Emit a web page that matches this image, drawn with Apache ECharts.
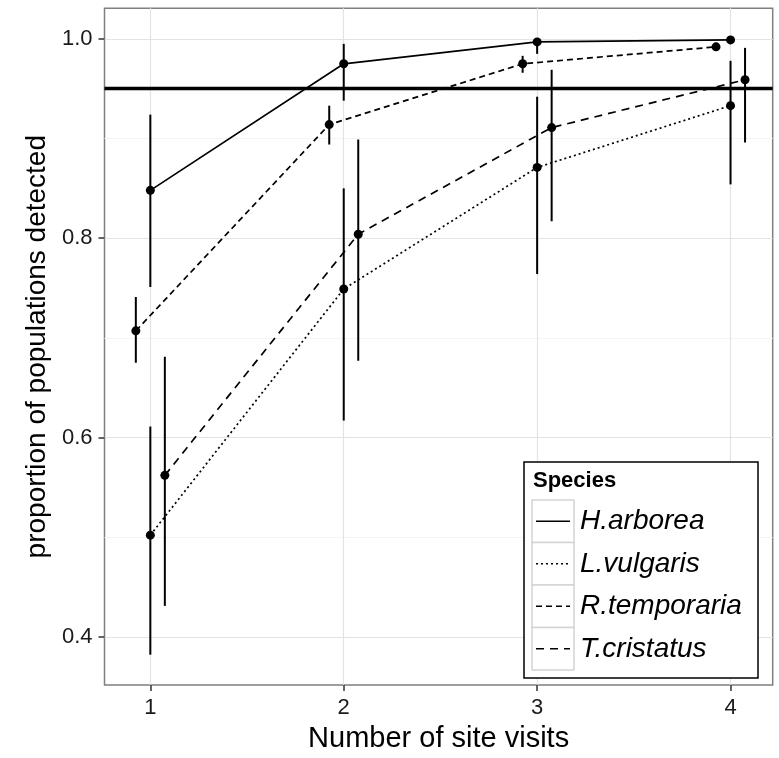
<!DOCTYPE html>
<html>
<head>
<meta charset="utf-8">
<script src="https://cdn.jsdelivr.net/npm/echarts@6/dist/echarts.min.js"></script>
<style>
  html, body { margin: 0; padding: 0; background: #fff; }
  #chart { width: 779px; height: 758px; }
</style>
</head>
<body>
<div id="chart"></div>
<script>
// number of visits (x) and species
var visits = [1, 2, 3, 4];
var species = ['H.arborea', 'L.vulgaris', 'R.temporaria', 'T.cristatus'];
var dodge = [0, 0, -0.075, 0.075];

// detection proportion, with lower / upper interval
var hArborea    = [0.848, 0.975, 0.997, 0.999];
var hArboreaLo  = [0.751, 0.938, 0.985, 0.997];
var hArboreaHi  = [0.924, 0.995, 1.000, 1.000];
var lVulgaris   = [0.502, 0.749, 0.871, 0.933];
var lVulgarisLo = [0.382, 0.617, 0.764, 0.854];
var lVulgarisHi = [0.611, 0.850, 0.942, 0.978];
var rTemp       = [0.707, 0.914, 0.975, 0.992];
var rTempLo     = [0.675, 0.894, 0.966, 0.988];
var rTempHi     = [0.741, 0.933, 0.983, 0.996];
var tCrist      = [0.562, 0.804, 0.911, 0.959];
var tCristLo    = [0.431, 0.677, 0.817, 0.896];
var tCristHi    = [0.681, 0.899, 0.969, 0.991];

var threshold = 0.95;

// ticks and gridlines
var xTicks = [1, 2, 3, 4];
var yTicks = [0.4, 0.6, 0.8, 1.0];
var yMinor = [0.5, 0.7, 0.9];

var means = [hArborea, lVulgaris, rTemp, tCrist];
var lows = [hArboreaLo, lVulgarisLo, rTempLo, tCristLo];
var highs = [hArboreaHi, lVulgarisHi, rTempHi, tCristHi];
var dashes = ['solid', [2, 3], [6, 4], [8, 6]];

var FONT = 'Liberation Sans';
var myChart = echarts.init(document.getElementById('chart'));

var series = [];

// grid lines (markLines at the tick values, kept under the data)
series.push({
    type: 'line',
    data: [],
    z: 0,
    silent: true,
    markLine: {
        z: 0,
        silent: true,
        symbol: 'none',
        label: { show: false },
        animation: false,
        lineStyle: { color: '#f4f4f4', width: 1, type: 'solid' },
        data: yMinor.map(function (v) { return { yAxis: v }; })
            .concat(yTicks.map(function (v) { return { yAxis: v, lineStyle: { color: '#e3e3e3', width: 1.2 } }; }))
            .concat(xTicks.map(function (v) { return { xAxis: v, lineStyle: { color: '#e3e3e3', width: 1.2 } }; }))
    }
});

for (var s = 0; s < species.length; s++) {
    var pts = [], bars = [];
    for (var i = 0; i < visits.length; i++) {
        var xv = visits[i] + dodge[s];
        pts.push([xv, means[s][i]]);
        bars.push([xv, lows[s][i], highs[s][i]]);
    }
    series.push({
        name: species[s] + ' ci',
        type: 'custom',
        z: 3,
        data: bars,
        renderItem: function (params, api) {
            var a = api.coord([api.value(0), api.value(1)]);
            var b = api.coord([api.value(0), api.value(2)]);
            return {
                type: 'line',
                shape: { x1: a[0], y1: a[1], x2: b[0], y2: b[1] },
                style: { stroke: '#000', lineWidth: 2 }
            };
        }
    });
    series.push({
        name: species[s],
        type: 'line',
        z: 4,
        data: pts,
        symbol: 'circle',
        symbolSize: 9,
        showSymbol: true,
        itemStyle: { color: '#000' },
        lineStyle: { color: '#000', width: 1.7, type: dashes[s] }
    });
}

// 0.95 threshold
series.push({
    type: 'line',
    data: [],
    z: 5,
    markLine: {
        z: 5,
        silent: true,
        symbol: 'none',
        label: { show: false },
        animation: false,
        lineStyle: { color: '#000', width: 3.3, type: 'solid' },
        data: [{ yAxis: threshold }]
    }
});

// legend, ggplot style
var lgX = 524, lgY = 462, rowH = 42.5;
var legendItems = [
    { type: 'rect', z: 10, shape: { x: lgX, y: lgY, width: 234, height: 216 },
      style: { fill: '#fff', stroke: '#000', lineWidth: 1.5 } },
    { type: 'text', z: 11, x: lgX + 9, y: lgY + 19,
      style: { text: 'Species', font: 'bold 22px ' + FONT, fill: '#000', verticalAlign: 'middle' } }
];
for (var k = 0; k < species.length; k++) {
    var ry = lgY + 38 + k * rowH;
    legendItems.push({ type: 'rect', z: 11, shape: { x: lgX + 8, y: ry, width: 42, height: rowH },
        style: { fill: '#fff', stroke: '#d4d4d4', lineWidth: 1.5 } });
    legendItems.push({ type: 'line', z: 12, shape: { x1: lgX + 12, y1: ry + rowH / 2, x2: lgX + 46, y2: ry + rowH / 2 },
        style: { stroke: '#000', lineWidth: 1.7, lineDash: dashes[k] === 'solid' ? null : dashes[k] } });
    legendItems.push({ type: 'text', z: 12, x: lgX + 56, y: ry + rowH / 2,
        style: { text: species[k], font: 'italic 28px ' + FONT, fill: '#000', verticalAlign: 'middle' } });
}

var option = {
    animation: false,
    textStyle: { fontFamily: FONT },
    grid: {
        left: 104.5, right: 6.3, top: 8.3, bottom: 64,
        show: true, borderColor: '#7f7f7f', borderWidth: 1.5, backgroundColor: '#fff'
    },
    xAxis: {
        type: 'value',
        min: 0.763, max: 4.218,
        name: 'Number of site visits',
        nameLocation: 'middle',
        nameGap: 37,
        nameTextStyle: { fontSize: 29, color: '#000', fontFamily: FONT },
        axisLine: { show: false },
        axisTick: { show: true, length: 6, customValues: xTicks, lineStyle: { color: '#333', width: 1.5 } },
        axisLabel: { customValues: xTicks, fontSize: 22, color: '#1a1a1a', margin: 12, fontFamily: FONT },
        splitLine: { show: false }
    },
    yAxis: {
        type: 'value',
        min: 0.3515, max: 1.0307,
        name: 'proportion of populations detected',
        nameLocation: 'middle',
        nameGap: 37,
        nameTextStyle: { fontSize: 28, color: '#000', fontFamily: FONT },
        axisLine: { show: false },
        axisTick: { show: true, length: 6, customValues: yTicks, lineStyle: { color: '#333', width: 1.5 } },
        axisLabel: { customValues: yTicks, fontSize: 22, color: '#1a1a1a', margin: 12, fontFamily: FONT,
            formatter: function (v) { return v.toFixed(1); } },
        splitLine: { show: false }
    },
    graphic: legendItems,
    series: series
};

myChart.setOption(option);
</script>
</body>
</html>
